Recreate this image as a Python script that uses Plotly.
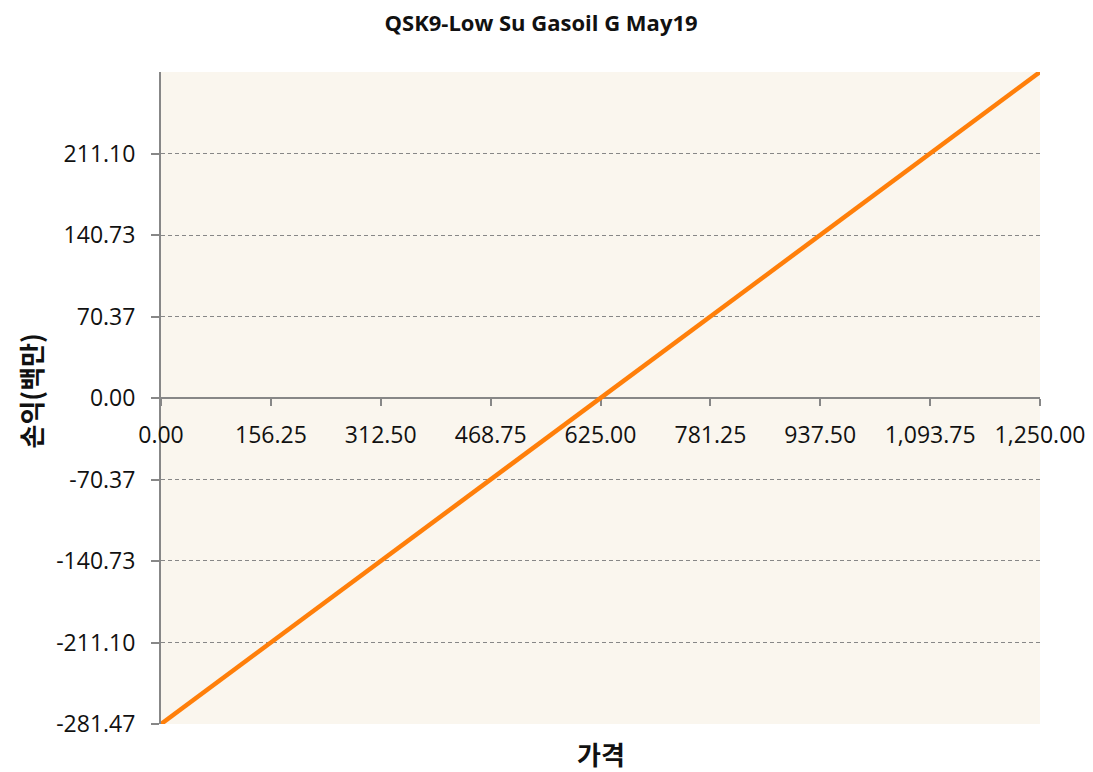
import plotly.graph_objects as go

# Price grid and corresponding profit/loss (millions)
price = [0.00, 156.25, 312.50, 468.75, 625.00, 781.25, 937.50, 1093.75, 1250.00]
pnl = [-281.47, -211.10, -140.73, -70.37, 0.00, 70.37, 140.73, 211.10, 281.47]

x_ticks = [0.00, 156.25, 312.50, 468.75, 625.00, 781.25, 937.50, 1093.75, 1250.00]
y_ticks = [-281.47, -211.10, -140.73, -70.37, 0.00, 70.37, 140.73, 211.10]

title_text = "QSK9-Low Su Gasoil G May19"
x_title = "가격"
y_title = "손익(백만)"

AXIS_GREY = "#878787"
TICK_FONT = dict(family="Open Sans", size=23, color="#111111")
KR_FONT = "Noto Sans CJK KR"

fig = go.Figure()
fig.add_trace(go.Scatter(
    x=price, y=pnl, mode="lines",
    line=dict(color="#FF7F0A", width=4.5),
    hoverinfo="skip", showlegend=False,
))

fig.update_layout(
    width=1093, height=772,
    margin=dict(l=161, r=53, t=72, b=48, autoexpand=False),
    paper_bgcolor="white",
    plot_bgcolor="#FAF6EE",
    title=dict(
        text=f"<b>{title_text}</b>",
        x=0.495, xref="container", xanchor="center",
        y=1 - 23 / 772, yref="container", yanchor="middle",
        font=dict(family="Open Sans", size=22, color="#111111"),
    ),
    xaxis=dict(
        range=[0, 1250],
        anchor="free", position=0.5,
        tickvals=x_ticks,
        ticktext=[f"{v:,.2f}" for v in x_ticks],
        ticks="outside", ticklen=7, tickcolor=AXIS_GREY, tickwidth=2,
        showline=True, linecolor=AXIS_GREY, linewidth=2,
        showgrid=False, zeroline=False, automargin=False,
        tickfont=TICK_FONT, ticklabelstandoff=9,
        layer="below traces",
    ),
    yaxis=dict(
        range=[-281.47, 281.47],
        tickvals=y_ticks,
        ticktext=[f"{v:,.2f}" for v in y_ticks],
        ticks="outside", ticklen=8, tickcolor=AXIS_GREY, tickwidth=2,
        showline=True, linecolor=AXIS_GREY, linewidth=2,
        showgrid=True, gridcolor=AXIS_GREY, gridwidth=1, griddash="4px,3px",
        zeroline=False, automargin=False,
        tickfont=TICK_FONT, ticklabelstandoff=11,
        layer="below traces",
    ),
    annotations=[
        dict(
            text=f"<b>{x_title}</b>", xref="paper", yref="paper",
            x=0.5, y=-29 / 652, xanchor="center", yanchor="middle",
            showarrow=False, font=dict(family=KR_FONT, size=26, color="#111111"),
        ),
        dict(
            text=f"<b>{y_title}</b>", xref="paper", yref="paper",
            x=-131 / 879, y=0.51, xanchor="center", yanchor="middle",
            textangle=-90,
            showarrow=False, font=dict(family=KR_FONT, size=26, color="#111111"),
        ),
    ],
)

fig.write_html("out.html")
